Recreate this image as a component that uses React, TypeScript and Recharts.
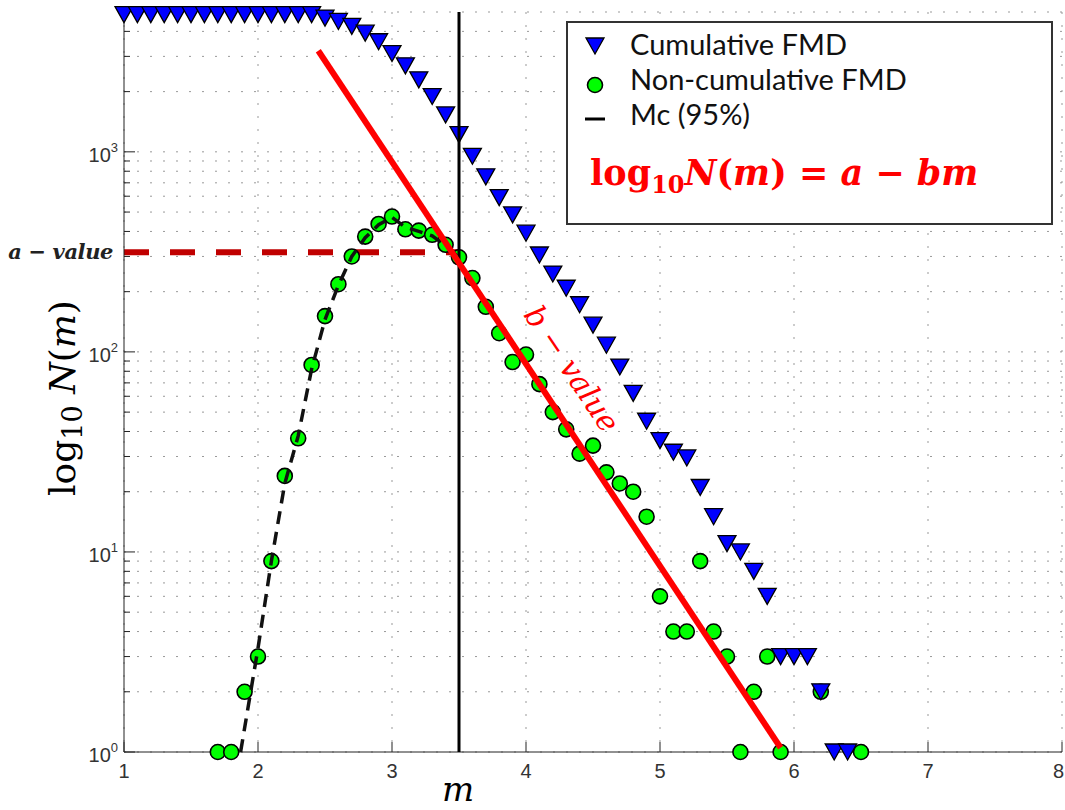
import React from "react";
import { ComposedChart, XAxis, YAxis, CartesianGrid, Scatter, Line, Legend, ReferenceDot } from "recharts";

// cumulative FMD (blue triangles)
const cumMag = [
  1.0, 1.1, 1.2, 1.3, 1.4, 1.5, 1.6, 1.7, 1.8, 1.9, 2.0, 2.1, 2.2, 2.3, 2.4,
  2.5, 2.6, 2.7, 2.8, 2.9, 3.0, 3.1, 3.2, 3.3, 3.4, 3.5, 3.6, 3.7, 3.8, 3.9,
  4.0, 4.1, 4.2, 4.3, 4.4, 4.5, 4.6, 4.7, 4.8, 4.9, 5.0, 5.1, 5.2, 5.3, 5.4,
  5.5, 5.6, 5.7, 5.8, 5.9, 6.0, 6.1, 6.2, 6.3, 6.4,
];
const cumCount = [
  4850, 4850, 4850, 4850, 4850, 4850, 4850, 4850, 4850, 4850, 4850, 4850, 4850, 4850, 4850,
  4660, 4485, 4235, 3920, 3550, 3100, 2690, 2290, 1890, 1530, 1220, 950, 750, 590, 484,
  392, 305, 245, 208, 172, 136, 108, 84, 62, 45, 36, 31.5, 29.5, 21, 15,
  11, 10, 8, 6, 3, 3, 3, 2, 1, 1,
];

// non-cumulative FMD (green circles)
const ncMag = [
  1.7, 1.8, 1.9, 2.0, 2.1, 2.2, 2.3, 2.4, 2.5, 2.6, 2.7, 2.8, 2.9, 3.0, 3.1, 3.2,
  3.3, 3.4, 3.5, 3.6, 3.7, 3.8, 3.9, 4.0, 4.1, 4.2, 4.3, 4.4, 4.5, 4.6, 4.7, 4.8,
  4.9, 5.0, 5.1, 5.2, 5.3, 5.4, 5.5, 5.6, 5.7, 5.8, 5.9, 6.2, 6.5,
];
const ncCount = [
  1, 1, 2, 3, 9, 24, 37, 86, 151, 218, 300, 377, 436, 475, 410, 404,
  385, 343, 297, 234, 168, 124, 89, 97, 69, 50, 41, 31, 34, 25, 22, 20,
  15, 6, 4, 4, 9, 4, 3, 1, 2, 3, 1, 2, 1,
];

// dashed curve through the incomplete part
const curveMag = [1.87, 2.0, 2.1, 2.2, 2.3, 2.4, 2.5, 2.6, 2.7, 2.8, 2.9, 3.0, 3.1, 3.2, 3.3, 3.4, 3.5];
const curveCount = [1, 3.3, 9, 22, 38, 82, 145, 215, 300, 372, 432, 470, 420, 400, 380, 340, 296];

// Gutenberg-Richter fit
const fitMag = [2.45, 5.9];
const fitCount = [3200, 1.05];

const mc = 3.5;
const aValue = 315;
const bLabelPos = { m: 4.34, N: 82 };

const xTicks = [1, 2, 3, 4, 5, 6, 7, 8];
const yTicks = [
  1, 2, 3, 4, 5, 6, 7, 8, 9,
  10, 20, 30, 40, 50, 60, 70, 80, 90,
  100, 200, 300, 400, 500, 600, 700, 800, 900,
  1000, 2000, 3000, 4000,
];
const yMajor = [1, 10, 100, 1000];

const cumData = cumMag.map((m, i) => ({ m, N: cumCount[i] }));
const ncData = ncMag.map((m, i) => ({ m, N: ncCount[i] }));
const curveData = curveMag.map((m, i) => ({ m, N: curveCount[i] }));
const fitData = fitMag.map((m, i) => ({ m, N: fitCount[i] }));
const mcData = [{ m: mc, N: 1 }, { m: mc, N: 5000 }];
const aData = [{ m: 1, N: aValue }, { m: mc, N: aValue }];

const axisColor = "#222";
const tickFont = "'Liberation Sans', Arial, Helvetica, sans-serif";
const mathFont = "'DejaVu Serif', serif";

const Triangle = (p: any) => (
  <path
    d={`M${p.cx - 9},${p.cy - 8} L${p.cx + 9},${p.cy - 8} L${p.cx},${p.cy + 8} Z`}
    fill="#0000ff"
    stroke="#000"
    strokeWidth={1.3}
  />
);

const Circle = (p: any) => <circle cx={p.cx} cy={p.cy} r={7.5} fill="#00ff00" stroke="#000" strokeWidth={1.6} />;

const XTickBottom = ({ x, y, payload }: any) => {
  const last = payload.value === xTicks[xTicks.length - 1];
  return (
    <g>
      <line x1={x} x2={x} y1={y} y2={y - 10} stroke={axisColor} strokeWidth={1} />
      <text
        x={last ? x + 2 : x}
        y={y + 26}
        textAnchor={last ? "end" : "middle"}
        fontSize={20}
        fill="#333"
        fontFamily={tickFont}
      >
        {payload.value}
      </text>
    </g>
  );
};

const XTickTop = ({ x, y }: any) => <line x1={x} x2={x} y1={y} y2={y + 10} stroke={axisColor} strokeWidth={1} />;

const YTickLeft = ({ x, y, payload }: any) => {
  const major = yMajor.includes(payload.value);
  return (
    <g>
      <line x1={x} x2={x + (major ? 11 : 6)} y1={y} y2={y} stroke={axisColor} strokeWidth={1} />
      {major && (
        <text x={x - 6} y={y + 10} textAnchor="end" fontSize={20} fill="#333" fontFamily={tickFont}>
          10
          <tspan dy={-10} fontSize={13}>
            {Math.round(Math.log10(payload.value))}
          </tspan>
        </text>
      )}
    </g>
  );
};

const YTickRight = ({ x, y, payload }: any) => {
  const major = yMajor.includes(payload.value);
  return <line x1={x} x2={x - (major ? 11 : 6)} y1={y} y2={y} stroke={axisColor} strokeWidth={1} />;
};

const LegendBox = () => (
  <svg width={489} height={207} style={{ display: "block" }}>
    <rect x={1} y={1} width={485} height={202} fill="#fff" stroke="#333" strokeWidth={2} />
    <Triangle cx={29} cy={25} />
    <Circle cx={29} cy={64} />
    <line x1={19} x2={39} y1={98} y2={98} stroke="#000" strokeWidth={3} />
    <g fontFamily="Lato, 'Open Sans', sans-serif" fontSize={29} fill="#111">
      <text x={64} y={34}>Cumulative FMD</text>
      <text x={64} y={69}>Non-cumulative FMD</text>
      <text x={64} y={104}>Mc (95%)</text>
    </g>
    <text x={24} y={164} fontFamily={mathFont} fontWeight="bold" fontSize={35} fill="#ff0000">
      log
      <tspan fontSize={24} dy={8}>10</tspan>
      <tspan dy={-8} fontStyle="italic">N</tspan>(<tspan fontStyle="italic">m</tspan>) = <tspan fontStyle="italic">a</tspan> − <tspan fontStyle="italic">bm</tspan>
    </text>
  </svg>
);

export default function App() {
  return (
    <div style={{ position: "absolute", left: 0, top: 0, background: "#fff" }}>
      <ComposedChart width={1065} height={810} margin={{ top: 12, right: 3, bottom: 18, left: 64 }}>
        <CartesianGrid stroke="#999" strokeDasharray="2 11" strokeWidth={1} />
        <XAxis
          type="number"
          dataKey="m"
          domain={[1, 8]}
          ticks={xTicks}
          interval={0}
          height={40}
          stroke={axisColor}
          tickSize={0}
          tickMargin={0}
          tick={XTickBottom}
          label={{
            content: ({ viewBox }: any) => (
              <text
                x={viewBox.x + 334}
                y={viewBox.y + 49}
                textAnchor="middle"
                fontFamily={mathFont}
                fontStyle="italic"
                fontSize={34}
                fill="#000"
              >
                m
              </text>
            ),
          }}
        />
        <XAxis
          xAxisId="top"
          orientation="top"
          type="number"
          dataKey="m"
          domain={[1, 8]}
          ticks={xTicks}
          interval={0}
          height={0}
          stroke={axisColor}
          tickSize={0}
          tickMargin={0}
          tick={XTickTop}
        />
        <YAxis
          scale="log"
          dataKey="N"
          domain={[1, 5000]}
          ticks={yTicks}
          interval={0}
          width={60}
          stroke={axisColor}
          tickSize={0}
          tickMargin={0}
          tick={YTickLeft}
          label={{
            content: ({ viewBox }: any) => {
              const tx = viewBox.x + 11;
              const ty = viewBox.y + viewBox.height / 2 + 16;
              return (
                <text
                  x={tx}
                  y={ty}
                  transform={`rotate(-90, ${tx}, ${ty})`}
                  textAnchor="middle"
                  fontFamily={mathFont}
                  fontSize={36}
                  fill="#000"
                >
                  log
                  <tspan fontSize={27} dy={7}>10</tspan>
                  <tspan dy={-7}> </tspan>
                  <tspan fontStyle="italic">N</tspan>(<tspan fontStyle="italic">m</tspan>)
                </text>
              );
            },
          }}
        />
        <YAxis
          yAxisId="right"
          orientation="right"
          scale="log"
          dataKey="N"
          domain={[1, 5000]}
          ticks={yTicks}
          interval={0}
          width={0}
          stroke={axisColor}
          tickSize={0}
          tickMargin={0}
          tick={YTickRight}
        />
        <Line
          data={aData}
          dataKey="N"
          type="linear"
          stroke="#c00000"
          strokeWidth={6}
          strokeDasharray="25 21"
          dot={false}
          activeDot={false}
          isAnimationActive={false}
        />
        <Scatter data={ncData} dataKey="N" shape={Circle} isAnimationActive={false} />
        <Scatter data={cumData} dataKey="N" shape={Triangle} isAnimationActive={false} />
        <Line
          data={mcData}
          dataKey="N"
          type="linear"
          stroke="#000"
          strokeWidth={3}
          dot={false}
          activeDot={false}
          isAnimationActive={false}
          zIndex={700}
        />
        <Line
          data={curveData}
          dataKey="N"
          type="linear"
          stroke="#111"
          strokeWidth={3.5}
          strokeDasharray="13 8"
          dot={false}
          activeDot={false}
          isAnimationActive={false}
          zIndex={700}
        />
        <Line
          data={fitData}
          dataKey="N"
          type="linear"
          stroke="#ff0000"
          strokeWidth={6}
          dot={false}
          activeDot={false}
          isAnimationActive={false}
          zIndex={710}
        />
        <ReferenceDot
          x={1}
          y={aValue}
          r={0}
          fill="none"
          stroke="none"
          ifOverflow="visible"
          label={{
            content: ({ viewBox }: any) => (
              <text
                x={viewBox.x + viewBox.width / 2 - 11}
                y={viewBox.y + viewBox.height / 2 + 7}
                textAnchor="end"
                fontFamily={mathFont}
                fontWeight="bold"
                fontStyle="italic"
                fontSize={21}
                letterSpacing={-0.4}
                fill="#222"
              >
                a − value
              </text>
            ),
          }}
        />
        <ReferenceDot
          x={bLabelPos.m}
          y={bLabelPos.N}
          r={0}
          fill="none"
          stroke="none"
          ifOverflow="visible"
          label={{
            content: ({ viewBox }: any) => {
              const cx = viewBox.x + viewBox.width / 2;
              const cy = viewBox.y + viewBox.height / 2;
              return (
                <text
                  x={cx}
                  y={cy + 10}
                  transform={`rotate(56, ${cx}, ${cy})`}
                  textAnchor="middle"
                  fontFamily={mathFont}
                  fontStyle="italic"
                  fontSize={30}
                  fill="#ff0000"
                >
                  b − value
                </text>
              );
            },
          }}
        />
        <Legend
          layout="vertical"
          align="center"
          verticalAlign="middle"
          wrapperStyle={{ left: 566, top: 21, width: 489, height: 207 }}
          content={() => <LegendBox />}
        />
      </ComposedChart>
    </div>
  );
}
